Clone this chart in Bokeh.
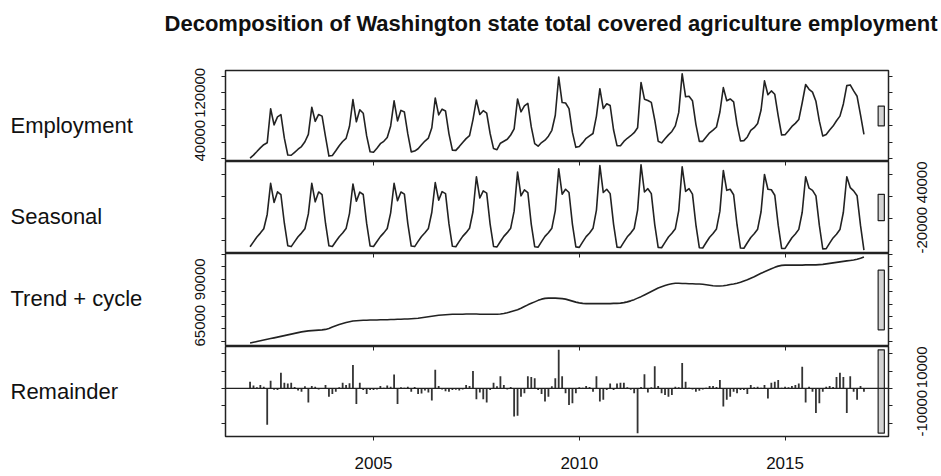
import math
from bokeh.plotting import figure
from bokeh.layouts import row, column
from bokeh.models import Range1d, FixedTicker, LinearAxis, Span, ColumnDataSource
from bokeh.embed import file_html
from bokeh.resources import INLINE
from bokeh.core.properties import value

TITLE = "Decomposition of Washington state total covered agriculture employment"
panel_names = ["Employment", "Seasonal", "Trend + cycle", "Remainder"]
years = list(range(2002, 2017))

# monthly values in thousands, one row per year (Jan..Dec)
employment_k = [
    [40.7, 44.4, 48.7, 53.2, 57.0, 59.3, 100.7, 81.0, 90.8, 93.5, 64.9, 44.5],
    [44.2, 47.8, 51.5, 54.8, 60.6, 69.6, 102.4, 85.4, 93.7, 91.7, 66.8, 43.2],
    [44.0, 49.6, 55.8, 60.9, 64.7, 79.4, 111.7, 84.8, 99.4, 95.2, 67.7, 48.4],
    [47.9, 52.7, 58.2, 61.1, 65.7, 79.8, 110.2, 85.9, 98.7, 96.7, 70.1, 48.3],
    [49.3, 52.1, 56.9, 61.4, 65.0, 77.6, 113.7, 93.2, 100.1, 97.9, 70.2, 50.4],
    [50.1, 54.7, 59.6, 64.4, 68.1, 87.5, 111.3, 93.7, 98.3, 95.3, 70.6, 52.3],
    [50.9, 58.8, 61.2, 63.6, 68.8, 76.2, 112.4, 96.9, 104.1, 107.2, 78.6, 58.4],
    [55.2, 59.6, 62.5, 67.3, 74.5, 92.8, 139.0, 108.2, 107.6, 100.8, 71.9, 53.8],
    [54.8, 59.5, 64.7, 67.7, 70.6, 91.7, 125.0, 100.9, 106.7, 104.6, 74.8, 55.9],
    [55.8, 61.0, 64.8, 67.9, 71.6, 77.5, 132.6, 112.3, 110.7, 108.4, 87.0, 61.2],
    [59.2, 64.2, 68.9, 73.1, 79.9, 96.2, 143.0, 115.2, 115.9, 110.4, 81.7, 61.1],
    [61.1, 66.4, 71.5, 74.7, 78.5, 96.7, 126.3, 110.3, 112.5, 109.1, 81.4, 61.7],
    [62.0, 66.4, 74.4, 77.7, 82.8, 99.1, 134.5, 117.7, 122.3, 118.2, 91.9, 68.8],
    [69.2, 74.0, 79.2, 82.9, 87.5, 107.9, 130.1, 124.3, 120.8, 109.7, 85.6, 67.5],
    [69.5, 74.9, 79.6, 86.1, 91.7, 106.5, 128.7, 129.6, 122.3, 115.8, 93.2, 69.5],
]
seasonal_k = [
    [-25.5, -21.0, -16.5, -13.0, -9.0, 4.0, 32.4, 15.0, 24.6, 22.0, -4.0, -24.5],
    [-25.3, -20.8, -16.4, -13.0, -9.0, 4.5, 32.4, 15.5, 24.5, 22.0, -4.0, -24.6],
    [-25.2, -20.7, -16.3, -12.9, -8.9, 5.0, 31.8, 16.0, 24.4, 22.2, -4.2, -24.7],
    [-25.2, -20.6, -16.2, -12.8, -8.8, 5.5, 32.4, 16.5, 24.5, 22.5, -4.4, -24.8],
    [-25.3, -20.6, -16.1, -12.7, -8.7, 6.0, 33.0, 17.0, 24.8, 23.0, -4.6, -25.0],
    [-25.4, -20.6, -16.0, -12.6, -8.6, 6.5, 38.4, 19.0, 25.5, 23.5, -4.8, -25.2],
    [-25.6, -20.7, -16.0, -12.6, -8.5, 7.0, 42.6, 21.0, 26.5, 24.0, -5.0, -25.4],
    [-25.8, -20.8, -16.0, -12.7, -8.5, 7.5, 45.6, 22.5, 27.0, 24.0, -5.0, -25.6],
    [-26.0, -21.0, -16.2, -12.9, -8.6, 8.0, 48.6, 24.0, 27.0, 23.0, -5.0, -25.8],
    [-26.2, -21.2, -16.4, -13.0, -8.8, 8.0, 49.2, 24.5, 27.5, 23.0, -5.2, -26.0],
    [-26.4, -21.4, -16.6, -13.2, -9.0, 7.5, 47.4, 25.0, 27.5, 22.5, -5.4, -26.3],
    [-26.6, -21.6, -16.8, -13.4, -9.2, 7.0, 44.1, 26.0, 27.0, 22.0, -5.6, -26.6],
    [-26.8, -21.8, -17.0, -13.6, -9.4, 6.5, 40.5, 27.0, 26.5, 21.5, -5.8, -27.0],
    [-27.0, -22.0, -17.2, -13.8, -9.6, 6.0, 38.4, 28.0, 26.0, 21.0, -6.0, -27.5],
    [-27.2, -22.2, -17.4, -14.0, -9.8, 6.0, 38.4, 28.5, 25.5, 21.0, -6.0, -28.5],
]
trend_k = [
    [64.3, 64.6, 64.9, 65.2, 65.5, 65.8, 66.1, 66.4, 66.7, 67.0, 67.3, 67.6],
    [67.9, 68.2, 68.5, 68.8, 69.0, 69.2, 69.3, 69.4, 69.5, 69.6, 69.8, 70.2],
    [70.8, 71.3, 71.8, 72.2, 72.6, 72.9, 73.2, 73.3, 73.4, 73.5, 73.5, 73.6],
    [73.6, 73.6, 73.7, 73.7, 73.7, 73.8, 73.8, 73.9, 73.9, 74.0, 74.0, 74.1],
    [74.2, 74.3, 74.5, 74.7, 74.9, 75.1, 75.3, 75.5, 75.6, 75.7, 75.8, 75.9],
    [75.9, 75.9, 75.9, 76.0, 76.0, 76.0, 76.0, 75.9, 75.9, 75.9, 75.9, 75.9],
    [75.9, 76.0, 76.2, 76.5, 76.9, 77.3, 77.7, 78.3, 79.0, 79.7, 80.3, 80.9],
    [81.5, 82.0, 82.3, 82.4, 82.4, 82.4, 82.3, 82.2, 82.0, 81.6, 81.2, 80.8],
    [80.5, 80.3, 80.2, 80.2, 80.2, 80.2, 80.2, 80.2, 80.2, 80.2, 80.3, 80.3],
    [80.4, 80.6, 80.9, 81.3, 81.8, 82.4, 83.0, 83.7, 84.4, 85.1, 85.8, 86.5],
    [87.0, 87.5, 87.9, 88.2, 88.4, 88.4, 88.3, 88.3, 88.2, 88.2, 88.1, 88.1],
    [88.0, 87.8, 87.6, 87.4, 87.3, 87.3, 87.4, 87.6, 87.9, 88.1, 88.4, 88.8],
    [89.3, 89.8, 90.4, 91.0, 91.7, 92.4, 93.0, 93.6, 94.2, 94.8, 95.3, 95.6],
    [95.7, 95.7, 95.7, 95.7, 95.7, 95.7, 95.8, 95.8, 95.8, 95.8, 95.9, 96.0],
    [96.2, 96.4, 96.6, 96.8, 97.0, 97.2, 97.4, 97.6, 97.8, 98.1, 98.5, 99.0],
]
remainder_k = [
    [1.9, 0.8, 0.3, 1.0, 0.5, -10.5, 2.2, -0.4, -0.5, 4.5, 1.6, 1.4],
    [1.6, 0.4, -0.6, -1.0, 0.6, -4.1, 0.7, 0.5, -0.3, 0.1, 1.0, -2.4],
    [-1.6, -1.0, 0.3, 1.6, 1.0, 1.5, 6.7, -4.5, 1.6, -0.5, -1.6, -0.5],
    [-0.5, -0.3, 0.7, 0.2, 0.8, 0.5, 4.0, -4.5, 0.3, 0.2, 0.5, -1.0],
    [0.4, -1.6, -1.5, -0.6, -1.2, -3.5, 5.4, 0.7, -0.3, -0.8, -1.0, -0.5],
    [-0.4, -0.6, -0.3, 1.0, 0.7, 5.0, -3.1, -1.2, -3.1, -4.1, -0.5, 1.6],
    [0.6, 3.5, 1.0, -0.3, 0.4, -8.1, -7.9, -2.4, -1.4, 3.5, 3.3, 2.9],
    [-0.5, -1.6, -3.8, -2.4, 0.6, 2.9, 11.1, 3.5, -1.4, -4.8, -4.3, -1.4],
    [0.3, 0.2, 0.7, 0.4, -1.0, 3.5, -3.8, -3.3, -0.5, 1.4, -0.5, 1.4],
    [1.6, 1.6, 0.3, -0.4, -1.4, -12.9, 0.4, 4.1, -1.2, 0.3, 6.4, 0.7],
    [-1.4, -1.9, -2.4, -1.9, 0.5, 0.3, 7.3, 1.9, 0.2, -0.3, -1.0, -0.7],
    [-0.3, 0.2, 0.7, 0.7, 0.4, 2.4, -5.2, -3.3, -2.4, -1.0, -1.4, -0.5],
    [-0.5, -1.6, 1.0, 0.3, 0.5, 0.2, 1.0, -2.9, 1.6, 1.9, 2.4, 0.2],
    [0.5, 0.3, 0.7, 1.0, 1.4, 6.2, -4.1, 0.5, -1.0, -7.1, -4.3, -1.0],
    [0.5, 0.7, 0.4, 3.3, 4.5, 3.3, -7.1, 3.5, -1.0, -3.3, 0.7, -1.0],
]

x_ticks = [2005, 2010, 2015]
y_tick_step = [20000, 20000, 5000, 5000]
y_tick_labels_shown = [[40000, 120000], [-20000, 40000], [65000, 90000], [-10000, 10000]]

# ---------------------------------------------------------------------------
FONT = "Liberation Sans"
INK = "#222222"
TXT = "#111111"
YFS = 15  # y tick label font size (px)

t = [y + m / 12 for y in years for m in range(12)]


def flat(rows):
    return [v * 1000 for r in rows for v in r]


series = [flat(employment_k), flat(seasonal_k), flat(trend_k), flat(remainder_k)]

span = t[-1] - t[0]
x_range = Range1d(t[0] - 0.04 * span, t[-1] + 0.04 * span)
dx = (x_range.end - x_range.start) / 64
bar_h = min(max(s) - min(s) for s in series)

TITLE_H = 44
LABEL_W = 158
PANEL_W = 783
frame_h = [91, 92, 93, 90]
top_b = [26, 0, 0, 0]
bot_b = [0, 0, 0, 40]


def base_fig(**kw):
    f = figure(output_backend="svg", toolbar_location=None,
               x_axis_location=None, y_axis_location=None, **kw)
    f.grid.visible = False
    f.background_fill_color = "white"
    f.border_fill_color = "white"
    return f


def label_len(s):
    # approximate rendered length of a numeric label (Liberation Sans metrics)
    return YFS * (0.556 * sum(ch.isdigit() for ch in s) + 0.333 * s.count("-"))


panels = []
for i, vals in enumerate(series):
    lo, hi = min(vals), max(vals)
    pad = 0.04 * (hi - lo)
    yr = Range1d(lo - pad, hi + pad)
    p = base_fig(width=PANEL_W, height=frame_h[i] + top_b[i] + bot_b[i],
                 x_range=x_range, y_range=yr,
                 min_border_left=67, min_border_right=53,
                 min_border_top=top_b[i], min_border_bottom=bot_b[i])
    p.outline_line_color = INK
    p.outline_line_width = 1.5

    src = ColumnDataSource(dict(t=t, v=vals, zero=[0] * len(t)))
    if i < 3:
        p.line("t", "v", source=src, line_color=INK, line_width=1.6, line_join="round")
    else:
        p.segment(x0="t", y0="zero", x1="t", y1="v", source=src,
                  line_color="#333333", line_width=1.8)
        p.add_layout(Span(location=0, dimension="width", line_color=INK, line_width=1.2))

    # range bar on a common scale (as in R's plot.stl)
    mid = (lo + hi) / 2
    p.quad(left=[x_range.end - dx], right=[x_range.end - 0.4 * dx],
           bottom=[mid - bar_h / 2], top=[mid + bar_h / 2],
           fill_color="#d3d3d3", line_color=INK, line_width=1.2)

    step = y_tick_step[i]
    all_ticks = [k * step for k in range(math.ceil(yr.start / step), math.floor(yr.end / step) + 1)]
    shown = [tk for tk in y_tick_labels_shown[i] if tk in all_ticks]
    labels_left = (i % 2 == 0)
    common = dict(major_tick_in=0, minor_tick_out=4, minor_tick_in=0,
                  minor_tick_line_color=INK, axis_line_color=None,
                  major_label_text_font=FONT, major_label_text_font_size=f"{YFS}px",
                  major_label_text_color=TXT)

    # left axis
    if labels_left:
        left_ax = LinearAxis(ticker=FixedTicker(ticks=shown, minor_ticks=all_ticks),
                             major_label_overrides={tk: str(tk) for tk in shown},
                             major_tick_out=4, major_tick_line_color=INK,
                             major_label_orientation="parallel", major_label_standoff=16, **common)
    else:
        left_ax = LinearAxis(ticker=FixedTicker(ticks=[], minor_ticks=all_ticks),
                             major_tick_out=4, major_tick_line_color=INK,
                             major_label_standoff=0, **common)
    p.add_layout(left_ax, "left")

    # right axis: labels read bottom-to-top and are centred on their tick
    if not labels_left:
        ppu = frame_h[i] / (yr.end - yr.start)
        anchors = []
        for tk in shown:
            a = tk - (label_len(str(tk)) / 2) / ppu
            anchors.append(max(a, yr.start + 1e-6 * (yr.end - yr.start)))
        right_ax = LinearAxis(ticker=FixedTicker(ticks=anchors, minor_ticks=all_ticks),
                              major_label_overrides={a: str(tk) for a, tk in zip(anchors, shown)},
                              major_tick_out=0, major_tick_line_color=None,
                              major_label_orientation=math.pi / 2, major_label_standoff=30, **common)
    else:
        right_ax = LinearAxis(ticker=FixedTicker(ticks=[], minor_ticks=all_ticks),
                              major_tick_out=4, major_tick_line_color=INK,
                              major_label_standoff=0, **common)
    p.add_layout(right_ax, "right")

    if i > 0:
        axt = LinearAxis(ticker=FixedTicker(ticks=[], minor_ticks=x_ticks),
                         major_tick_in=0, major_tick_out=0,
                         minor_tick_in=4, minor_tick_out=0,
                         axis_line_color=None, minor_tick_line_color=INK,
                         major_label_standoff=0)
        p.add_layout(axt, "above")
    if i == 3:
        axb = LinearAxis(ticker=FixedTicker(ticks=x_ticks), major_tick_out=4, major_tick_in=0,
                         axis_line_color=None, minor_tick_line_color=None,
                         major_tick_line_color=INK, major_label_text_font=FONT,
                         major_label_text_font_size="17px", major_label_text_color=TXT,
                         major_label_standoff=16)
        p.add_layout(axb, "below")
    panels.append(p)

# title strip
title_fig = base_fig(width=LABEL_W + PANEL_W, height=TITLE_H,
                     x_range=Range1d(0, LABEL_W + PANEL_W), y_range=Range1d(TITLE_H, 0),
                     min_border_left=0, min_border_right=0, min_border_top=0, min_border_bottom=0)
title_fig.outline_line_color = None
title_fig.text(x=[550.5], y=[23], text=[TITLE], text_font=value(FONT), text_font_size="22px",
               text_font_style="bold", text_align="center", text_baseline="middle", text_color=TXT)

# component names on the left
body_h = sum(frame_h) + sum(top_b) + sum(bot_b)
lab = base_fig(width=LABEL_W, height=body_h, x_range=Range1d(0, LABEL_W), y_range=Range1d(body_h, 0),
               min_border_left=0, min_border_right=0, min_border_top=0, min_border_bottom=0)
lab.outline_line_color = None
lab.text(x=[10, 10, 10, 10], y=[81, 172, 254, 347], text=panel_names,
         text_font=value(FONT), text_font_size="22px", text_align="left",
         text_baseline="middle", text_color=TXT)

layout = column(title_fig, row(lab, column(*panels)))
open("out.html", "w").write(file_html(layout, INLINE, title="STL decomposition"))
